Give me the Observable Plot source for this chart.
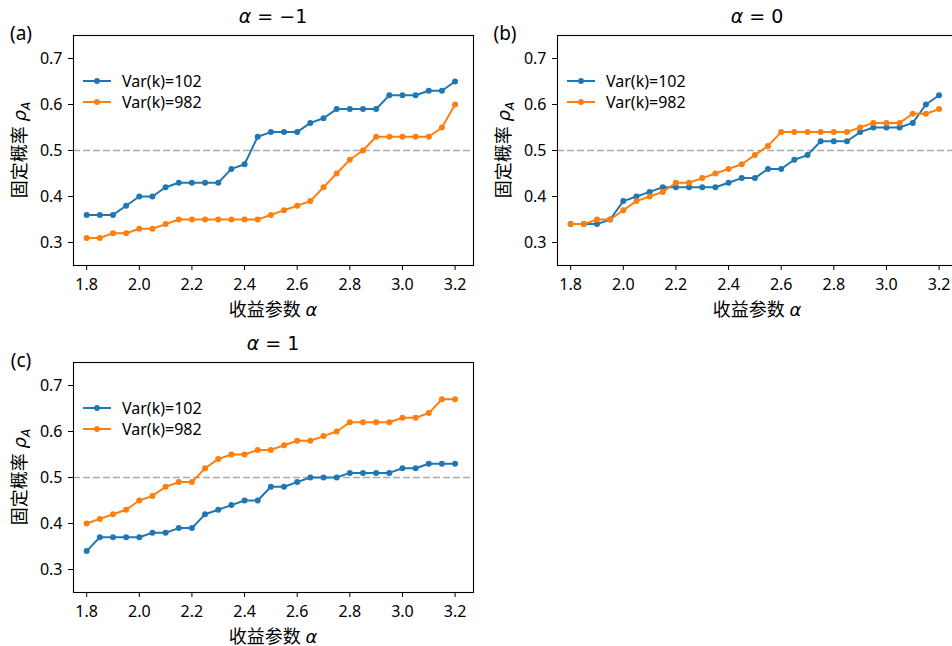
<!DOCTYPE html>
<html>
<head>
<meta charset="utf-8">
<script src="https://cdn.jsdelivr.net/npm/d3@7"></script>
<script src="https://cdn.jsdelivr.net/npm/@observablehq/plot@0.6"></script>
<style>
  html, body { margin: 0; padding: 0; background: #fff; overflow: hidden; }
  #fig { position: relative; width: 952px; height: 646px; overflow: hidden; background: #fff;
         font-family: 'Noto Sans', 'Noto Sans CJK SC', sans-serif; color: #000; }
  .abs { position: absolute; white-space: nowrap; transform: translate(-50%, -50%); line-height: 1; }
  .math { font-family: 'DejaVu Sans', sans-serif; }
  .leg { position: absolute; display: flex; align-items: center; font-size: 16px; white-space: nowrap; }
  .leg svg { margin-right: 11px; }
</style>
</head>
<body>
<div id="fig"></div>
<script>
// ---------- data ----------
const alphas = [1.8, 1.85, 1.9, 1.95, 2.0, 2.05, 2.1, 2.15, 2.2, 2.25, 2.3, 2.35, 2.4, 2.45, 2.5,
                2.55, 2.6, 2.65, 2.7, 2.75, 2.8, 2.85, 2.9, 2.95, 3.0, 3.05, 3.1, 3.15, 3.2];

const panelA_var102 = [0.36,0.36,0.36,0.38,0.40,0.40,0.42,0.43,0.43,0.43,0.43,0.46,0.47,0.53,0.54,
                       0.54,0.54,0.56,0.57,0.59,0.59,0.59,0.59,0.62,0.62,0.62,0.63,0.63,0.65];
const panelA_var982 = [0.31,0.31,0.32,0.32,0.33,0.33,0.34,0.35,0.35,0.35,0.35,0.35,0.35,0.35,0.36,
                       0.37,0.38,0.39,0.42,0.45,0.48,0.50,0.53,0.53,0.53,0.53,0.53,0.55,0.60];

const panelB_var102 = [0.34,0.34,0.34,0.35,0.39,0.40,0.41,0.42,0.42,0.42,0.42,0.42,0.43,0.44,0.44,
                       0.46,0.46,0.48,0.49,0.52,0.52,0.52,0.54,0.55,0.55,0.55,0.56,0.60,0.62];
const panelB_var982 = [0.34,0.34,0.35,0.35,0.37,0.39,0.40,0.41,0.43,0.43,0.44,0.45,0.46,0.47,0.49,
                       0.51,0.54,0.54,0.54,0.54,0.54,0.54,0.55,0.56,0.56,0.56,0.58,0.58,0.59];

const panelC_var102 = [0.34,0.37,0.37,0.37,0.37,0.38,0.38,0.39,0.39,0.42,0.43,0.44,0.45,0.45,0.48,
                       0.48,0.49,0.50,0.50,0.50,0.51,0.51,0.51,0.51,0.52,0.52,0.53,0.53,0.53];
const panelC_var982 = [0.40,0.41,0.42,0.43,0.45,0.46,0.48,0.49,0.49,0.52,0.54,0.55,0.55,0.56,0.56,
                       0.57,0.58,0.58,0.59,0.60,0.62,0.62,0.62,0.62,0.63,0.63,0.64,0.67,0.67];

const xTicks = [1.8, 2.0, 2.2, 2.4, 2.6, 2.8, 3.0, 3.2];
const yTicks = [0.3, 0.4, 0.5, 0.6, 0.7];
const refLine = [0.5];
const seriesNames = ["Var(k)=102", "Var(k)=982"];
const titles = ["−1", "0", "1"];
const panelTags = ["(a)", "(b)", "(c)"];

const BLUE = "#1f77b4", ORANGE = "#ff7f0e";
const fig = document.getElementById("fig");

function makePanel(s102, s982) {
  const d1 = alphas.map((x, i) => ({x, y: s102[i]}));
  const d2 = alphas.map((x, i) => ({x, y: s982[i]}));
  return Plot.plot({
    width: 480, height: 300,
    marginLeft: 73, marginRight: 7, marginTop: 35, marginBottom: 35,
    style: {fontFamily: "'Noto Sans','Noto Sans CJK SC',sans-serif", fontSize: "16px", color: "#000", background: "transparent", overflow: "visible"},
    x: {domain: [1.75, 3.27]},
    y: {domain: [0.25, 0.75]},
    marks: [
      Plot.ruleY(refLine, {stroke: "#aaaaaa", strokeWidth: 1.3, strokeDasharray: "7,3"}),
      Plot.line(d1, {x: "x", y: "y", stroke: BLUE, strokeWidth: 2}),
      Plot.dot(d1, {x: "x", y: "y", fill: BLUE, r: 3}),
      Plot.line(d2, {x: "x", y: "y", stroke: ORANGE, strokeWidth: 2}),
      Plot.dot(d2, {x: "x", y: "y", fill: ORANGE, r: 3}),
      Plot.axisX({ticks: xTicks, tickFormat: d3.format(".1f"), tickSize: 5, tickPadding: 8, label: null}),
      Plot.axisY({ticks: yTicks, tickFormat: d3.format(".1f"), tickSize: 5, tickPadding: 6, label: null}),
      Plot.frame({stroke: "#000", strokeWidth: 1.1})
    ]
  });
}

function place(el, left, top) {
  el.style.position = "absolute";
  el.style.left = left + "px";
  el.style.top = top + "px";
  fig.appendChild(el);
}
function label(html, cx, cy, size, extra) {
  const d = document.createElement("div");
  d.className = "abs";
  d.innerHTML = html;
  d.style.left = cx + "px";
  d.style.top = cy + "px";
  d.style.fontSize = size + "px";
  if (extra) d.style.transform = "translate(-50%, -50%) " + extra;
  fig.appendChild(d);
}
function legend(left, top) {
  const colors = [BLUE, ORANGE];
  seriesNames.forEach((name, i) => {
    const row = document.createElement("div");
    row.className = "leg";
    row.style.left = left + "px";
    row.style.top = (top + i * 21 - 10) + "px";
    row.style.height = "20px";
    row.innerHTML = `<svg width="28" height="10"><line x1="0" x2="28" y1="5" y2="5" stroke="${colors[i]}" stroke-width="2"/><circle cx="14" cy="5" r="3" fill="${colors[i]}"/></svg><span>${name}</span>`;
    fig.appendChild(row);
  });
}

const panels = [
  {s1: panelA_var102, s2: panelA_var982, left: 0, top: 0},
  {s1: panelB_var102, s2: panelB_var982, left: 484, top: 0},
  {s1: panelC_var102, s2: panelC_var982, left: 0, top: 327}
];

panels.forEach((p, k) => {
  const svg = makePanel(p.s1, p.s2);
  place(svg, p.left, p.top);
  const fl = p.left + 73, ft = p.top + 35, fb = p.top + 265;
  const fcx = (p.left + 73 + p.left + 473) / 2;
  // title
  label(`<span class="math"><i>α</i> = ${titles[k]}</span>`, k === 1 ? 757 : fcx, ft - 19, 19);
  // panel tag
  label(panelTags[k], p.left + 21, ft - 2, 19);
  // x label
  label(`收益参数 <span class="math"><i>α</i></span>`, k === 1 ? 757 : fcx, fb + 44, 18);
  // y label
  label(`固定概率 <span class="math"><i>ρ</i><sub style="font-size:12px;"><i>A</i></sub></span>`, p.left + 21, ft + 115, 18, "rotate(-90deg)");
  // legend
  legend(fl + 10, ft + 46);
});
</script>
</body>
</html>
